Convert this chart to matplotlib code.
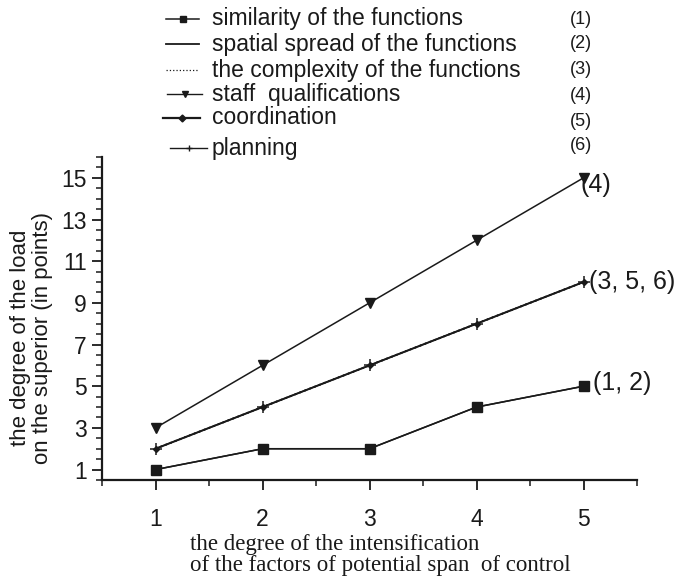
import matplotlib
matplotlib.use("Agg")
import matplotlib.pyplot as plt
from matplotlib.lines import Line2D
from matplotlib.ticker import MultipleLocator

# series
x = [1, 2, 3, 4, 5]
similarity = [1, 2, 2, 4, 5]
spatial = [1, 2, 2, 4, 5]
complexity = [2, 4, 6, 8, 10]
qualifications = [3, 6, 9, 12, 15]
coordination = [2, 4, 6, 8, 10]
planning = [2, 4, 6, 8, 10]

names = ["similarity of the functions", "spatial spread of the functions",
         "the complexity of the functions", "staff  qualifications",
         "coordination", "planning"]
numbers = ["(1)", "(2)", "(3)", "(4)", "(5)", "(6)"]

plt.rcParams['font.family'] = ['Liberation Sans', 'DejaVu Sans']

W, H = 680, 582
fig = plt.figure(figsize=(W / 100, H / 100), dpi=100)
ax = fig.add_axes([102 / W, 1 - 480 / H, (637 - 102) / W, (480 - 157) / H])

c = '#1a1a1a'
ax.plot(x, spatial, color=c, lw=1.1)
ax.plot(x, similarity, color=c, lw=1.1, marker='s', ms=6.5)
ax.plot(x, qualifications, color=c, lw=1.1, marker='v', ms=7)
ax.plot(x, coordination, color=c, lw=1.4, marker='D', ms=3)
ax.plot(x, complexity, color=c, lw=1.4, ls=':')
ax.plot(x, planning, color=c, lw=1.0, marker='+', ms=8, mew=1.1)

ax.set_xlim(0.5, 5.5)
ax.set_ylim(0.5, 16)
ax.set_xticks(x)
ax.set_yticks([1, 3, 5, 7, 9, 11, 13, 15])
ax.xaxis.set_minor_locator(MultipleLocator(0.5))
ax.yaxis.set_minor_locator(MultipleLocator(0.5))
ax.tick_params(which='major', length=7, width=1.3, labelsize=16.5, colors=c)
ax.tick_params(which='minor', length=4, width=1.1, colors=c)
ax.tick_params(axis='x', pad=13)
ax.tick_params(axis='y', pad=4)
for s in ['top', 'right']:
    ax.spines[s].set_visible(False)
for s in ['left', 'bottom']:
    ax.spines[s].set_linewidth(1.6)
    ax.spines[s].set_color(c)

# end labels
ax.annotate("(4)", (x[-1], qualifications[-1]), xytext=(-2, -5), textcoords='offset points',
            fontsize=18, va='center', ha='left', color=c)
ax.annotate("(3, 5, 6)", (x[-1], planning[-1]), xytext=(4, 0), textcoords='offset points',
            fontsize=18, va='center', ha='left', color=c)
ax.annotate("(1, 2)", (x[-1], similarity[-1]), xytext=(7, 2), textcoords='offset points',
            fontsize=18, va='center', ha='left', color=c)

fig.text(53 / W, 1 - 338 / H, "the degree of the load\non the superior (in points)",
         rotation=90, fontsize=16, ha='right', va='center', multialignment='center',
         color=c, linespacing=1.05)
fig.text(190 / W, 1 - 555 / H, "the degree of the intensification\nof the factors of potential span  of control",
         fontsize=16.5, ha='left', va='center', family=['Liberation Serif', 'DejaVu Serif'],
         color=c, linespacing=1.02)

# legend rows drawn at the top of the figure
rows_y = [19, 44, 70, 94, 118, 148]
nums_y = [19, 44, 70, 95, 121, 145]
handle_x = [(166, 199), (166, 199), (166, 199), (167, 202), (163, 200), (170, 207)]
styles = [dict(lw=1.1, marker='s', ms=4),
          dict(lw=1.3),
          dict(lw=0.9, ls=':'),
          dict(lw=1.0, marker='v', ms=4),
          dict(lw=1.6, marker='D', ms=3.5),
          dict(lw=1.0, marker='+', ms=5)]
for i in range(6):
    x0, x1 = handle_x[i]
    yy = 1 - rows_y[i] / H
    fig.add_artist(Line2D([x0 / W, (x0 + x1) / 2 / W, x1 / W], [yy, yy, yy],
                          transform=fig.transFigure, color=c, markevery=[1], **styles[i]))
    fig.text(212 / W, yy, names[i], fontsize=16.5, ha='left', va='center', color=c)
    fig.text(581 / W, 1 - nums_y[i] / H, numbers[i], fontsize=13, ha='center', va='center',
             color=c)

fig.savefig("out.png", dpi=100)
